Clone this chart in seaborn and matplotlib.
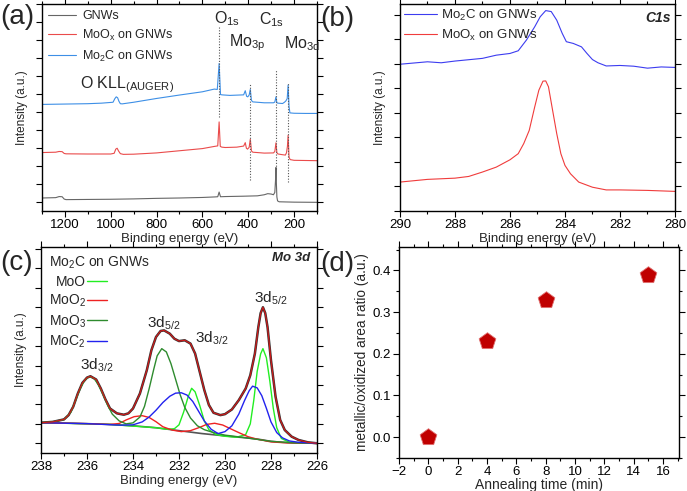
import numpy as np
import pandas as pd
import matplotlib
matplotlib.use("Agg")
import matplotlib.pyplot as plt
import seaborn as sns
from matplotlib.ticker import MultipleLocator, NullFormatter, FormatStrFormatter

# (a) survey spectra, intensity offset units
gnw_e = [1300, 1240, 1225, 1212, 1203, 1195, 1100, 1000, 900, 800, 700, 600, 545, 533, 527, 521,
         500, 420, 360, 330, 315, 300, 290, 284, 281, 279, 277, 275, 272, 265, 200, 100]
gnw_i = [0.24, 0.26, 0.32, 0.31, 0.18, 0.15, 0.16, 0.17, 0.19, 0.22, 0.24, 0.27, 0.30, 0.31, 0.57, 0.31,
         0.32, 0.34, 0.36, 0.42, 0.48, 0.46, 0.42, 0.55, 1.2, 1.93, 1.0, 0.3, 0.08, 0.03, 0.01, 0.0]

mox_e = [1300, 1240, 1225, 1212, 1203, 1195, 1100, 1000, 985, 978, 972, 966, 958, 945, 900, 800, 700,
         600, 548, 533, 527, 522, 515, 500, 450, 420, 413, 408, 403, 396, 391, 386, 380, 330, 290, 284,
         279, 275, 270, 250, 238, 233, 229, 226, 222, 217, 200, 150, 100]
mox_i = [2.76, 2.78, 2.82, 2.81, 2.71, 2.69, 2.68, 2.68, 2.72, 2.95, 3.0, 2.85, 2.70, 2.66, 2.67, 2.74, 2.86,
         2.98, 3.10, 3.13, 4.46, 3.10, 3.06, 3.04, 3.06, 3.12, 3.31, 3.0, 2.95, 3.05, 3.50, 2.85, 2.78, 2.73,
         2.74, 2.82, 3.30, 2.75, 2.68, 2.64, 2.62, 2.75, 3.1, 3.72, 2.5, 2.37, 2.33, 2.32, 2.31]

mo2c_e = [1300, 1200, 1100, 1040, 990, 982, 976, 970, 964, 958, 950, 900, 800, 700, 600, 548, 535, 527,
          521, 515, 480, 420, 413, 407, 402, 396, 391, 386, 380, 330, 290, 284, 279, 275, 270, 250, 242,
          236, 230, 226, 222, 218, 200, 150, 100]
mo2c_i = [5.43, 5.45, 5.47, 5.50, 5.55, 5.75, 5.85, 5.80, 5.60, 5.47, 5.46, 5.55, 5.76, 5.95, 6.13, 6.28,
          6.26, 7.70, 5.98, 5.96, 5.93, 5.96, 6.19, 5.88, 5.85, 5.95, 6.26, 5.65, 5.57, 5.52, 5.52, 5.56,
          5.85, 5.52, 5.50, 5.48, 5.55, 5.62, 5.75, 6.50, 5.3, 4.96, 4.94, 4.93, 4.93]

peak_names = ["O$_{1s}$", "Mo$_{3p}$", "C$_{1s}$", "Mo$_{3d}$"]
peak_pos = [527, 391, 279, 226]
peak_lo = [4.74, 1.22, 1.87, 1.13]
peak_hi = [9.74, 6.63, 7.37, 6.59]

# (b) C1s region
c1s_e = [290, 289, 288.5, 288, 287, 286.5, 286, 285.7, 285.4, 285.1, 284.9, 284.7, 284.5, 284.3, 284.1,
         283.95, 283.7, 283.4, 283.2, 283.0, 282.8, 282.5, 282, 281.5, 281, 280.5, 280]
c1s_mo2c = [4.99, 5.09, 5.05, 5.12, 5.23, 5.36, 5.43, 5.54, 5.98, 6.52, 6.93, 7.18, 7.14, 6.79, 6.25,
            5.91, 5.84, 5.70, 5.43, 5.18, 5.05, 4.92, 4.94, 4.91, 4.83, 4.88, 4.86]
c1s_mox_e = [290, 289, 288, 287.5, 287, 286.5, 286, 285.7, 285.5, 285.3, 285.1, 284.95, 284.8, 284.7,
             284.6, 284.45, 284.3, 284.15, 284.0, 283.8, 283.5, 283, 282.5, 282, 281, 280]
c1s_mox = [0.18, 0.29, 0.34, 0.41, 0.59, 0.79, 1.09, 1.34, 1.75, 2.29, 3.25, 3.93, 4.30, 4.31,
           4.07, 3.11, 2.16, 1.34, 0.86, 0.52, 0.18, -0.03, -0.14, -0.14, -0.16, -0.20]

# (c) Mo 3d fit
env_e = [238, 237.5, 237.0, 236.8, 236.6, 236.4, 236.2, 236.0, 235.85, 235.6, 235.4, 235.2, 235.0,
         234.7, 234.4, 234.2, 234.0, 233.7, 233.4, 233.2, 233.0, 232.8, 232.65, 232.4, 232.2, 232.0,
         231.75, 231.5, 231.3, 231.1, 230.9, 230.7, 230.5, 230.2, 230.0, 229.7, 229.4, 229.1, 228.9,
         228.7, 228.55, 228.45, 228.35, 228.25, 228.15, 228.0, 227.8, 227.6, 227.4, 227.1, 226.8,
         226.4, 226.0]
env_i = [1.06, 1.10, 1.23, 1.45, 1.88, 2.56, 3.11, 3.38, 3.45, 3.28, 2.82, 2.26, 1.79,
         1.54, 1.47, 1.54, 1.79, 2.56, 3.76, 4.79, 5.47, 5.78, 5.81, 5.64, 5.38, 5.26,
         5.30, 5.13, 4.62, 3.68, 2.74, 1.97, 1.57, 1.45, 1.50, 1.74, 2.22, 2.82, 3.50,
         4.62, 5.98, 6.7, 7.0, 6.7, 5.98, 4.27, 2.39, 1.20, 0.68, 0.34, 0.17,
         0.05, 0.0]

moo_e = [238, 235, 233, 232.5, 232.2, 232.0, 231.8, 231.6, 231.45, 231.3, 231.1, 230.9, 230.7, 230.4,
         230.0, 229.5, 229.1, 228.9, 228.75, 228.6, 228.45, 228.35, 228.2, 228.05, 227.9, 227.75,
         227.55, 227.2, 226]
moo_i = [1.06, 0.97, 0.8, 0.72, 0.75, 0.95, 1.6, 2.4, 2.83, 2.65, 1.95, 1.15, 0.7, 0.45,
         0.36, 0.31, 0.45, 1.0, 2.2, 3.7, 4.6, 4.87, 4.4, 3.2, 1.8, 0.8,
         0.25, 0.05, 0.0]

moo2_e = [238, 236, 235, 234.6, 234.3, 233.95, 233.6, 233.3, 233.0, 232.7, 232.3, 231.9, 231.5, 231.1,
          230.8, 230.45, 230.1, 229.8, 229.4, 229.0, 228.6, 228.0, 227.3, 226]
moo2_i = [1.06, 1.01, 0.97, 1.02, 1.2, 1.37, 1.42, 1.33, 1.11, 0.85, 0.68, 0.60, 0.65, 0.82,
          0.97, 1.03, 0.94, 0.77, 0.55, 0.34, 0.21, 0.07, 0.02, 0.0]

moo3_e = [238, 237.5, 237, 236.7, 236.5, 236.3, 236.1, 235.9, 235.7, 235.5, 235.3, 235.1, 234.9, 234.6,
          234.3, 234.0, 233.7, 233.5, 233.3, 233.1, 232.95, 232.75, 232.55, 232.35, 232.15, 231.95,
          231.75, 231.5, 231.2, 230.9, 230.5, 230, 229, 228, 227, 226]
moo3_i = [1.06, 1.10, 1.22, 1.6, 2.2, 2.8, 3.25, 3.43, 3.35, 3.0, 2.5, 1.95, 1.5, 1.15,
          1.0, 1.05, 1.35, 1.9, 2.8, 3.8, 4.5, 4.87, 4.7, 4.1, 3.3, 2.5,
          1.85, 1.3, 0.9, 0.7, 0.55, 0.42, 0.27, 0.10, 0.02, 0.0]

moc2_e = [238, 236, 234.5, 234.0, 233.6, 233.3, 233.0, 232.7, 232.4, 232.15, 231.9, 231.65, 231.4,
          231.15, 230.9, 230.6, 230.3, 230.0, 229.7, 229.4, 229.15, 228.95, 228.8, 228.6, 228.4, 228.2,
          228.0, 227.75, 227.5, 227.2, 226.8, 226]
moc2_i = [1.06, 1.01, 0.93, 0.95, 1.1, 1.35, 1.7, 2.1, 2.42, 2.58, 2.6, 2.48, 2.15,
          1.65, 1.15, 0.72, 0.5, 0.6, 0.9, 1.5, 2.2, 2.7, 2.94, 2.85, 2.45, 1.8,
          1.1, 0.55, 0.28, 0.12, 0.05, 0.0]

bg_e = [238, 237, 236, 235, 234, 233, 232, 231, 230, 229, 228.5, 228, 227.5, 227, 226]
bg_i = [1.06, 1.04, 1.01, 0.97, 0.90, 0.80, 0.65, 0.50, 0.38, 0.27, 0.20, 0.10, 0.05, 0.02, 0.0]

mo3d_labels = ["3d$_{3/2}$", "3d$_{5/2}$", "3d$_{3/2}$", "3d$_{5/2}$"]
mo3d_lab_x = [235.6, 232.65, 230.6, 228.0]
mo3d_lab_y = [4.0, 6.15, 5.4, 7.45]

# (d) ratio vs annealing time
anneal_t = [0, 4, 8, 15]
area_ratio = [0.0, 0.23, 0.33, 0.39]

sns.set_style("ticks")
plt.rcParams["font.family"] = ["Liberation Sans", "DejaVu Sans"]
plt.rcParams["mathtext.fontset"] = "custom"
plt.rcParams["mathtext.rm"] = "Liberation Sans"
plt.rcParams["mathtext.it"] = "Liberation Sans:italic"
plt.rcParams["mathtext.default"] = "rm"
plt.rcParams["axes.edgecolor"] = "black"
plt.rcParams["axes.linewidth"] = 1.0

FS = 9.5


def trace(ax, x, y, color, lw=0.8, label=None):
    sns.lineplot(x=x, y=y, ax=ax, color=color, lw=lw, label=label,
                 sort=False, estimator=None)


def frame(ax, xmaj, xmin, ymaj, ymin=None, ylabels=False):
    ax.xaxis.set_major_locator(MultipleLocator(xmaj))
    ax.xaxis.set_minor_locator(MultipleLocator(xmin))
    ax.yaxis.set_major_locator(MultipleLocator(ymaj))
    if ymin:
        ax.yaxis.set_minor_locator(MultipleLocator(ymin))
    ax.tick_params(which="both", direction="out", top=True, right=True,
                   labelsize=FS, colors="black", pad=2)
    ax.tick_params(which="major", length=4, width=0.8)
    ax.tick_params(which="minor", length=2.5, width=0.8)
    if not ylabels:
        ax.yaxis.set_major_formatter(NullFormatter())


fig = plt.figure(figsize=(6.87, 4.91), dpi=100)
ax_a = fig.add_axes([0.0611, 0.5703, 0.4003, 0.4216])
ax_b = fig.add_axes([0.5822, 0.5703, 0.4003, 0.4216])
ax_c = fig.add_axes([0.0597, 0.0774, 0.4017, 0.4195])
ax_d = fig.add_axes([0.5808, 0.0672, 0.4076, 0.4297])

# (a)
trace(ax_a, gnw_e, gnw_i, "#666666", label="GNWs")
trace(ax_a, mox_e, mox_i, "#ea4b4b", label="MoO$_x$ on GNWs")
trace(ax_a, mo2c_e, mo2c_i, "#3d8fe6", label="Mo$_2$C on GNWs")
ax_a.vlines(peak_pos, peak_lo, peak_hi, colors="#555555", linestyles=(0, (1, 1.5)), lw=0.8)
ax_a.set_xlim(1300, 100)
ax_a.set_ylim(-0.48, 11.0)
frame(ax_a, 200, 100, 1)
ax_a.legend(loc="upper left", frameon=False, fontsize=9, handlelength=2.2,
            handletextpad=0.5, labelspacing=0.45, borderaxespad=0.1, borderpad=0.4)
ax_a.text(493, 10.2, peak_names[0], fontsize=11.5, ha="center", va="center")
ax_a.text(403, 8.85, peak_names[1], fontsize=11.5, ha="center", va="center")
ax_a.text(300, 10.15, peak_names[2], fontsize=11.5, ha="center", va="center")
ax_a.text(165, 8.8, peak_names[3], fontsize=11.5, ha="center", va="center")
ax_a.text(930, 6.55, "O KLL$_{(AUGER)}$", fontsize=11.5, ha="center", va="center")
ax_a.set_xlabel("Binding energy (eV)", fontsize=FS, labelpad=1)
ax_a.set_ylabel("Intensity (a.u.)", fontsize=8.5, labelpad=4)

# (b)
trace(ax_b, c1s_e, c1s_mo2c, "#3c3cf0", label="Mo$_2$C on GNWs")
trace(ax_b, c1s_mox_e, c1s_mox, "#f03c3c", label="MoO$_x$ on GNWs")
ax_b.set_xlim(290, 280)
ax_b.set_ylim(-1.0, 7.45)
frame(ax_b, 2, 1, 1)
ax_b.legend(loc="upper left", frameon=False, fontsize=9.5, handlelength=2.5,
            handletextpad=0.3, labelspacing=0.35, borderaxespad=0.0, borderpad=0.3)
ax_b.text(0.985, 0.93, "C1s", transform=ax_b.transAxes, ha="right", va="center",
          fontsize=10, fontweight="bold", fontstyle="italic")
ax_b.set_xlabel("Binding energy (eV)", fontsize=FS, labelpad=1)
ax_b.set_ylabel("Intensity (a.u.)", fontsize=8.5, labelpad=4)

# (c)
trace(ax_c, env_e, env_i, "#333333", lw=1.8)
trace(ax_c, bg_e, bg_i, "#555555", lw=1.2)
trace(ax_c, moo_e, moo_i, "#22ee22", lw=1.0, label="MoO")
trace(ax_c, moo2_e, moo2_i, "#ee2222", lw=1.0, label="MoO$_2$")
trace(ax_c, moo3_e, moo3_i, "#2e8b2e", lw=1.0, label="MoO$_3$")
trace(ax_c, moc2_e, moc2_i, "#2222ee", lw=1.0, label="MoC$_2$")
trace(ax_c, env_e, env_i, "#cc1a1a", lw=0.9)
ax_c.set_xlim(238, 226)
ax_c.set_ylim(-0.5, 10.1)
frame(ax_c, 2, 1, 1)
h, l = ax_c.get_legend_handles_labels()
keep = [i for i, s in enumerate(l) if s.startswith("Mo")]
ax_c.legend([h[i] for i in keep], [l[i] for i in keep], loc="upper left",
            frameon=False, fontsize=10, markerfirst=False, handlelength=1.4,
            handletextpad=0.1, labelspacing=0.28, borderaxespad=0.2, borderpad=0.35,
            title="Mo$_2$C on GNWs", title_fontsize=10, alignment="left")
for i, s in enumerate(mo3d_labels):
    ax_c.text(mo3d_lab_x[i], mo3d_lab_y[i], s, fontsize=11, ha="center", va="center")
ax_c.text(0.975, 0.945, "Mo 3d", transform=ax_c.transAxes, ha="right", va="center",
          fontsize=9.5, fontweight="bold", fontstyle="italic")
ax_c.set_xlabel("Binding energy (eV)", fontsize=FS, labelpad=1)
ax_c.set_ylabel("Intensity (a.u.)", fontsize=8.5, labelpad=4)

# (d)
sns.scatterplot(x=anneal_t, y=area_ratio, ax=ax_d, marker="p", s=160,
                color="#c00000", edgecolor="#e07070", linewidth=0.6, zorder=3)
ax_d.set_xlim(-2, 17.1)
ax_d.set_ylim(-0.05, 0.456)
frame(ax_d, 2, 1, 0.1, 0.05, ylabels=True)
ax_d.yaxis.set_major_formatter(FormatStrFormatter("%.1f"))
ax_d.set_xlabel("Annealing time (min)", fontsize=10, labelpad=0)
ax_d.set_ylabel("metallic/oxidized area ratio (a.u.)", fontsize=9.8, labelpad=2)

for s, x, y in [("(a)", 0.0, 0.965), ("(b)", 0.466, 0.962), ("(c)", 0.0, 0.465), ("(d)", 0.466, 0.462)]:
    fig.text(x, y, s, fontsize=20, ha="left", va="center")

fig.savefig("out.png", dpi=100)
